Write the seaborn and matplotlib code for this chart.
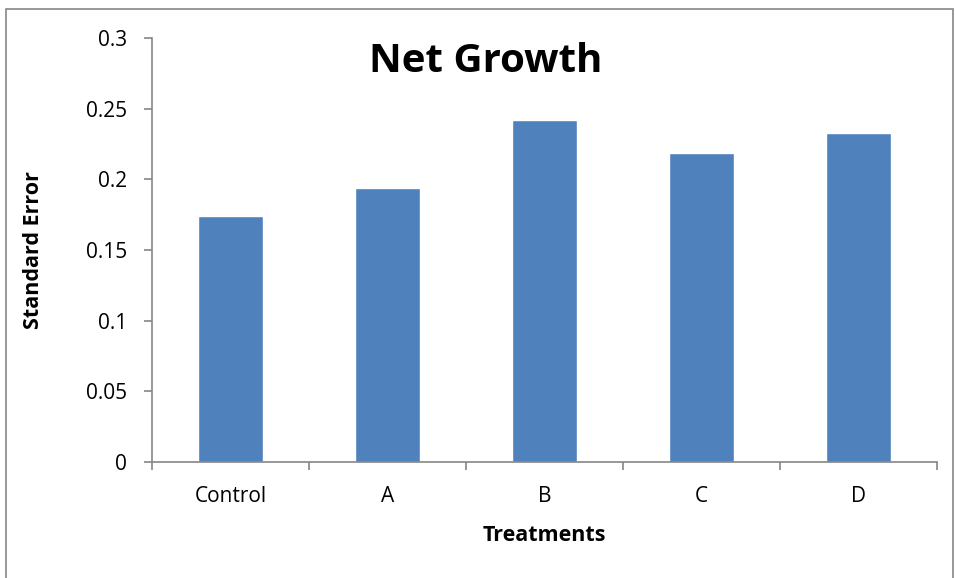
import matplotlib
matplotlib.use('Agg')
import matplotlib.pyplot as plt
import seaborn as sns
import pandas as pd
from matplotlib.patches import Rectangle

# data
treatments = ['Control', 'A', 'B', 'C', 'D']
std_error = [0.174, 0.194, 0.242, 0.219, 0.2325]
y_ticks = [0, 0.05, 0.1, 0.15, 0.2, 0.25, 0.3]
y_tick_labels = ['0', '0.05', '0.1', '0.15', '0.2', '0.25', '0.3']

df = pd.DataFrame({'treatment': treatments, 'se': std_error})

sns.set_theme(style='white')
plt.rcParams['font.family'] = ['Open Sans', 'DejaVu Sans']
plt.rcParams['text.color'] = 'black'

fig = plt.figure(figsize=(9.55, 5.78), dpi=100)
ax = fig.add_axes([0.159, 0.2007, 0.822, 0.7334])

sns.barplot(data=df, x='treatment', y='se', color='#4F81BD', saturation=1,
            width=0.41, ax=ax)

grey = '#868686'
ax.set_ylim(0, 0.3)
ax.set_xlim(-0.5, len(treatments) - 0.5)
ax.set_yticks(y_ticks)
ax.set_yticklabels(y_tick_labels)
ax.set_xticks(range(len(treatments)))
ax.set_xticklabels(treatments)
ax.tick_params(axis='x', which='major', labelsize=15, labelcolor='black',
               bottom=False, pad=11)
ax.tick_params(axis='y', labelsize=15, labelcolor='black', left=True,
               length=6, width=1.2, color=grey, direction='out', pad=12)

# excel style x ticks between categories
ax.set_xticks([i - 0.5 for i in range(len(treatments) + 1)], minor=True)
ax.tick_params(axis='x', which='minor', bottom=True, length=6, width=1.2,
               color=grey, direction='out')

for side in ['top', 'right']:
    ax.spines[side].set_visible(False)
for side in ['left', 'bottom']:
    ax.spines[side].set_color(grey)
    ax.spines[side].set_linewidth(1.2)

ax.set_xlabel('Treatments', fontsize=15.5, weight='bold', color='black', labelpad=13)
ax.set_ylabel('Standard Error', fontsize=15.5, weight='bold', color='black', labelpad=30)

fig.text(0.509, 0.894, 'Net Growth', ha='center', va='center',
         fontsize=29, weight='bold', color='black')

# chart border
fig.patches.append(Rectangle((0.006, -0.01), 0.992, 0.995, transform=fig.transFigure,
                             fill=False, edgecolor=grey, linewidth=1.2))

fig.savefig('out.png', dpi=100)
